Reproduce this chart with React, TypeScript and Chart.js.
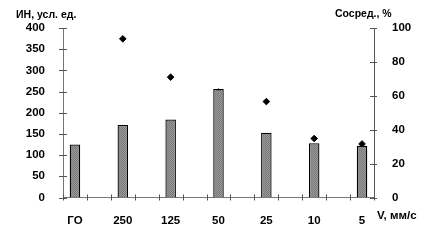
import React, { useEffect, useRef } from "react";
import { Chart, registerables } from "chart.js";

Chart.register(...registerables);

const speeds = ["ГО", "250", "125", "50", "25", "10", "5"];
const inValues = [125, 171, 184, 256, 153, 128, 122];
const concValues: (number | null)[] = [null, 93.6, 71, 62.2, 56.6, 34.8, 31.6];
const leftTicks = [0, 50, 100, 150, 200, 250, 300, 350, 400];
const rightTicks = [0, 20, 40, 60, 80, 100];
const leftTitle = "ИН, усл. ед.";
const rightTitle = "Сосред., %";
const xTitle = "V, мм/с";

const FONT = '"Liberation Sans", Arial, sans-serif';

function interleave<T>(arr: T[], blank: T): T[] {
  const out: T[] = [];
  arr.forEach((v, i) => {
    out.push(v);
    if (i < arr.length - 1) out.push(blank);
  });
  return out;
}

function makePattern(): CanvasPattern | string {
  const c = document.createElement("canvas");
  c.width = 2;
  c.height = 2;
  const g = c.getContext("2d");
  if (!g) return "#8a8a8a";
  g.fillStyle = "#9a9a9a";
  g.fillRect(0, 0, 2, 2);
  g.fillStyle = "#787878";
  g.fillRect(0, 0, 1, 1);
  g.fillRect(1, 1, 1, 1);
  const p = g.createPattern(c, "repeat");
  return p || "#8a8a8a";
}

const crossTicks = {
  id: "crossTicks",
  afterDraw(chart: any) {
    const ctx = chart.ctx;
    const { x, y, y1 } = chart.scales;
    const area = chart.chartArea;
    ctx.save();
    ctx.strokeStyle = "#555555";
    ctx.lineWidth = 1;
    ctx.beginPath();
    leftTicks.forEach((v) => {
      const py = Math.round(y.getPixelForValue(v)) + 0.5;
      ctx.moveTo(area.left - 4, py);
      ctx.lineTo(area.left + 4, py);
    });
    rightTicks.forEach((v) => {
      const py = Math.round(y1.getPixelForValue(v)) + 0.5;
      ctx.moveTo(area.right - 4, py);
      ctx.lineTo(area.right + 3, py);
    });
    const n = chart.data.labels.length;
    const step = x.getPixelForValue(1) - x.getPixelForValue(0);
    for (let i = 0; i <= n; i++) {
      const px = Math.round(x.getPixelForValue(0) - step / 2 + i * step) + 0.5;
      ctx.moveTo(px, area.bottom - 3);
      ctx.lineTo(px, area.bottom + 3);
    }
    ctx.stroke();
    ctx.fillStyle = "#000";
    ctx.font = `bold 10.5px ${FONT}`;
    ctx.textBaseline = "middle";
    ctx.textAlign = "left";
    ctx.fillText(leftTitle, 16, 15);
    ctx.fillText(rightTitle, 335, 14);
    ctx.font = `bold 11.5px ${FONT}`;
    ctx.fillText(xTitle, 377, 216);
    ctx.restore();
  },
};

export default function App() {
  const ref = useRef<HTMLCanvasElement>(null);
  useEffect(() => {
    if (!ref.current) return;
    const labels = interleave<string>(speeds, "");
    const bars = interleave<number | null>(inValues, null);
    const pts = interleave<number | null>(concValues, null);
    const chart = new Chart(ref.current, {
      type: "bar",
      data: {
        labels,
        datasets: [
          {
            type: "bar",
            data: bars,
            yAxisID: "y",
            backgroundColor: makePattern() as any,
            borderColor: "#000",
            borderWidth: 1.3,
            categoryPercentage: 1,
            barPercentage: 0.44,
          },
          {
            type: "line",
            data: pts,
            yAxisID: "y1",
            showLine: false,
            pointStyle: "rectRot",
            pointRadius: 3.3,
            backgroundColor: "#000",
            borderColor: "#000",
            borderWidth: 1,
          } as any,
        ],
      },
      options: {
        responsive: false,
        animation: false,
        layout: { padding: { top: 28, left: 0, right: 0, bottom: 0 } },
        plugins: {
          legend: { display: false },
          tooltip: { enabled: false },
        },
        scales: {
          x: {
            offset: true,
            grid: { display: false, offset: true },
            border: { display: true, color: "#777777", width: 1 },
            ticks: {
              autoSkip: false,
              maxRotation: 0,
              padding: 8,
              color: "#000",
              font: { family: FONT, size: 11.5, weight: "bold" },
            },
            afterFit(scale: any) {
              scale.height = 45.5;
            },
          },
          y: {
            position: "left",
            min: 0,
            max: 400,
            grid: { display: false },
            border: { display: true, color: "#777777", width: 1 },
            ticks: {
              stepSize: 50,
              padding: 10,
              color: "#000",
              font: { family: FONT, size: 11.5, weight: "bold" },
            },
            afterFit(scale: any) {
              scale.width = 63;
            },
          },
          y1: {
            position: "right",
            min: 0,
            max: 100,
            grid: { display: false },
            border: { display: true, color: "#555555", width: 1 },
            ticks: {
              stepSize: 20,
              padding: 10,
              color: "#000",
              font: { family: FONT, size: 11.5, weight: "bold" },
            },
            afterFit(scale: any) {
              scale.width = 69;
            },
          },
        },
      } as any,
      plugins: [crossTicks],
    });
    return () => chart.destroy();
  }, []);
  return (
    <div style={{ position: "fixed", left: 0, top: 0, width: 443, height: 243, background: "#fff" }}>
      <canvas ref={ref} width={443} height={243} />
    </div>
  );
}
